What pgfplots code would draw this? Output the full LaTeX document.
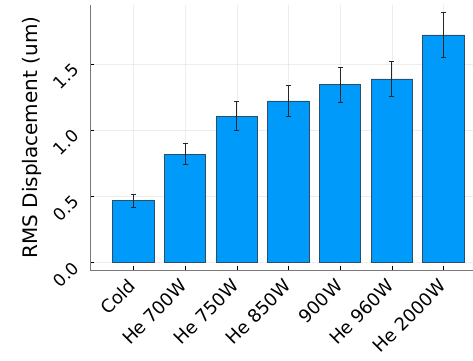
\documentclass[border=0pt]{standalone}
\usepackage{fontspec}
\setmainfont{DejaVu Sans}
\usepackage{pgfplots}
\pgfplotsset{compat=1.18}
\definecolor{barblue}{HTML}{009AFA}
\definecolor{baredge}{RGB}{40,80,110}
\definecolor{spine}{RGB}{120,120,120}

\begin{document}
\begin{tikzpicture}[x=1bp,y=1bp]
\begin{axis}[
  at={(90bp,90bp)}, anchor=south west,
  scale only axis, width=383bp, height=265bp,
  xmin=0.16, xmax=7.57, ymin=-0.058, ymax=1.949,
  axis x line*=bottom, axis y line*=left,
  axis line style={-, draw=spine, line width=0.8bp},
  xtick={1,...,7},
  xticklabels={Cold, He 700W, He 750W, He 850W, 900W, He 960W, He 2000W},
  ytick={0,0.5,1,1.5},
  /pgf/number format/assume math mode=true,
  yticklabel style={/pgf/number format/fixed, /pgf/number format/fixed zerofill,
    /pgf/number format/precision=1},
  tick label style={inner sep=0pt},
  % shifts come before the rotation so that they stay in page directions
  x tick label style={font=\fontsize{18bp}{21bp}\selectfont,
    xshift=-1bp, yshift=-12.6bp, rotate=45, anchor=east},
  y tick label style={font=\fontsize{17bp}{20bp}\selectfont,
    xshift=-14.4bp, yshift=-2.5bp, rotate=45, anchor=east},
  tick align=inside, major tick length=4bp,
  tick style={draw=black, line width=0.5bp},
  grid=major,
  major grid style={draw=black, opacity=0.07, line width=0.5bp},
  every axis y label/.style={at={(axis description cs:-0.1253,0.5)}, rotate=90, anchor=south, inner sep=0pt},
  ylabel={RMS Displacement (um)},
  label style={font=\fontsize{20bp}{24bp}\selectfont},
]
\addplot[ybar, bar width=0.8, fill=barblue, draw=baredge, line width=0.8bp,
  error bars/.cd, y dir=both, y explicit,
  error bar style={line width=0.8bp, draw=black!85},
  error mark options={rotate=90, mark size=2.5bp, line width=0.8bp, draw=black!85}]
  table[x=x, y=y, y error=e] {
x y     e
1 0.467 0.048
2 0.820 0.082
3 1.108 0.110
4 1.222 0.120
5 1.345 0.131
6 1.389 0.135
7 1.722 0.168
};
\end{axis}
\pgfresetboundingbox
\useasboundingbox (0,0) rectangle (473,360);
\end{tikzpicture}
\end{document}
